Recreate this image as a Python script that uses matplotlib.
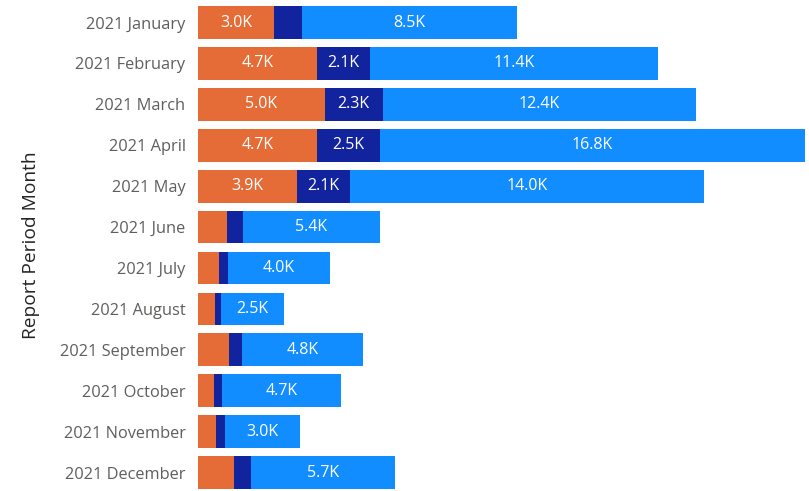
import numpy as np
import matplotlib
matplotlib.use("Agg")
from matplotlib import pyplot as plt

plt.rcParams['font.family'] = ['Open Sans', 'DejaVu Sans']

months = ['2021 January', '2021 February', '2021 March', '2021 April', '2021 May',
          '2021 June', '2021 July', '2021 August', '2021 September', '2021 October',
          '2021 November', '2021 December']
orange = [3.0, 4.7, 5.0, 4.7, 3.9, 1.16, 0.83, 0.66, 1.22, 0.62, 0.71, 1.43]
navy = [1.12, 2.1, 2.3, 2.5, 2.1, 0.62, 0.37, 0.25, 0.51, 0.33, 0.34, 0.66]
blue = [8.5, 11.4, 12.4, 16.8, 14.0, 5.4, 4.0, 2.5, 4.8, 4.7, 3.0, 5.7]

colors = ['#E66C37', '#12239E', '#118DFF']

fig = plt.figure(figsize=(8.09, 4.91), dpi=100)
ax = fig.add_axes([0.2448, 0.0, 0.752, 1.0])

y = np.arange(len(months))
left = np.zeros(len(months))
for vals, c in zip([orange, navy, blue], colors):
    vals = np.array(vals)
    ax.barh(y, vals, left=left, height=0.8, color=c)
    for i, v in enumerate(vals):
        # only label segments wide enough for the text
        if v >= 1.8:
            ax.text(left[i] + v / 2, y[i], f'{v:.1f}K', ha='center', va='center',
                    color='white', fontsize=11.5)
    left += vals

ax.set_xlim(0, 24.05)
ax.set_ylim(11.45, -0.55)
ax.set_yticks(y)
ax.set_yticklabels(months, fontsize=11.8, color='#605E5C')
ax.tick_params(axis='y', length=0, pad=9)
ax.set_xticks([])
for s in ax.spines.values():
    s.set_visible(False)
ax.set_ylabel('Report Period Month', fontsize=13.8, color='#252423', labelpad=14)

fig.savefig('out.png', dpi=100)
